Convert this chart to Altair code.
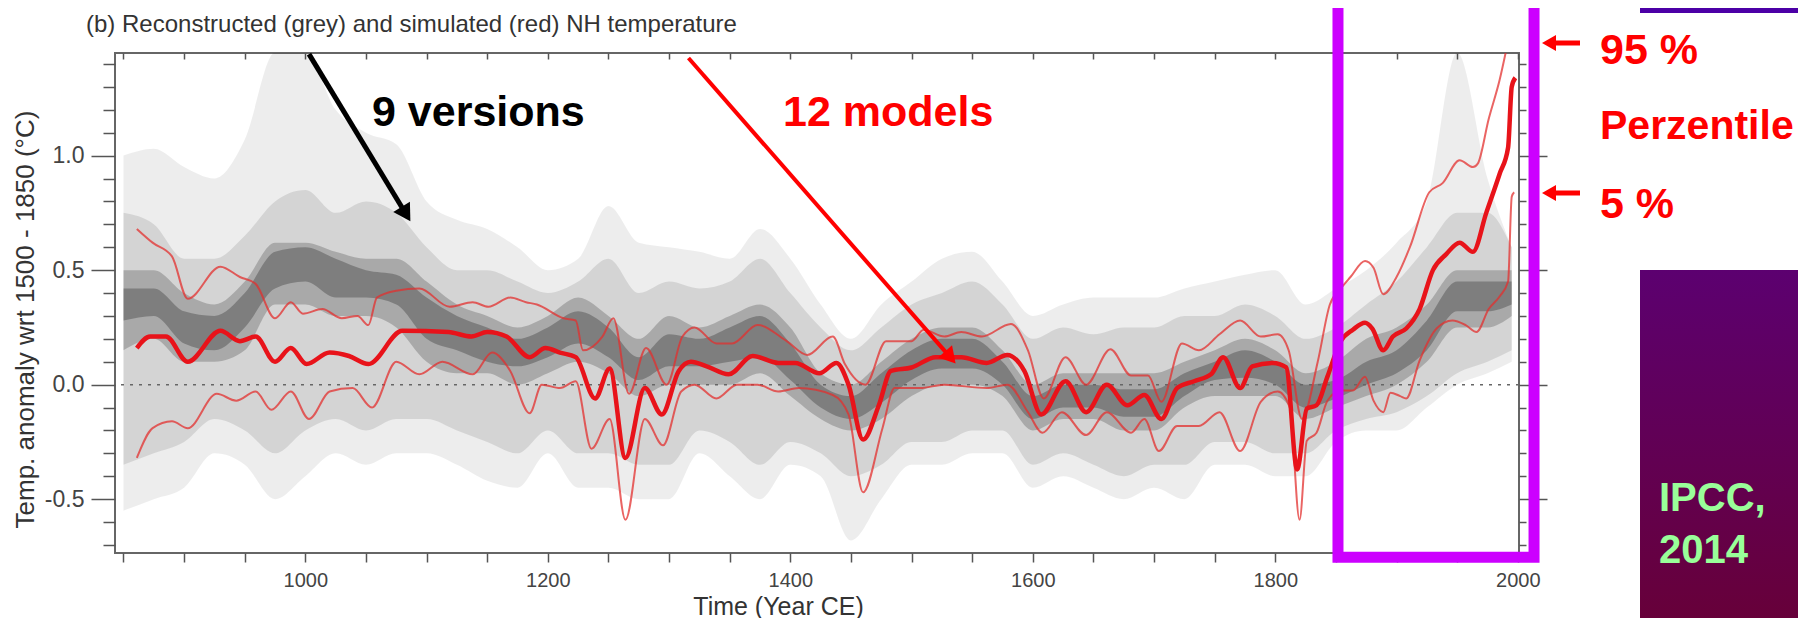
import altair as alt
import pandas as pd

# ---------------- data ----------------
med_years = [861, 872, 885, 903, 930, 946, 959, 975, 988, 1001, 1020, 1036, 1052, 1080, 1118, 1137, 1150,
             1166, 1185, 1198, 1210, 1223, 1239, 1251, 1264, 1280, 1294, 1308, 1318, 1331, 1349, 1369, 1390,
             1404, 1424, 1438, 1448, 1460, 1473, 1483, 1500, 1520, 1541, 1562, 1579, 1593, 1607, 1627, 1644,
             1661, 1678, 1692, 1706, 1719, 1733, 1747, 1757, 1771, 1781, 1798, 1809, 1818, 1826, 1834, 1843,
             1854, 1864, 1874, 1880, 1889, 1897, 1908, 1919, 1930, 1941, 1952, 1963, 1974, 1985, 1992, 1995, 1998]
med_vals = [0.16, 0.21, 0.21, 0.10, 0.235, 0.19, 0.21, 0.10, 0.16, 0.09, 0.14, 0.125, 0.09, 0.235, 0.23, 0.21, 0.23,
            0.21, 0.12, 0.16, 0.14, 0.12, -0.06, 0.07, -0.32, -0.015, -0.13, 0.06, 0.10, 0.08, 0.045, 0.125, 0.095,
            0.095, 0.05, 0.095, 0.0, -0.24, -0.09, 0.06, 0.075, 0.12, 0.12, 0.095, 0.13, 0.06, -0.13, 0.015, -0.12,
            0.0, -0.09, -0.045, -0.15, -0.015, 0.015, 0.045, 0.12, -0.015, 0.08, 0.095, 0.075, -0.37, -0.105, -0.09, 0.035,
            0.19, 0.24, 0.27, 0.245, 0.15, 0.21, 0.245, 0.33, 0.50, 0.57, 0.62, 0.58, 0.75, 0.92, 1.035, 1.30, 1.34]

p95_years = [861, 874, 890, 903, 930, 946, 959, 975, 988, 998, 1014, 1030, 1043, 1052, 1059, 1075, 1094, 1119,
             1138, 1151, 1169, 1182, 1191, 1213, 1223, 1229, 1245, 1254, 1267, 1281, 1298, 1311, 1321, 1339, 1352,
             1373, 1397, 1414, 1435, 1445, 1462, 1479, 1500, 1510, 1527, 1541, 1558, 1582, 1596, 1609, 1627, 1644,
             1664, 1681, 1695, 1706, 1723, 1737, 1754, 1771, 1788, 1802, 1811, 1822, 1835, 1845, 1854, 1862, 1874,
             1881, 1889, 1900, 1911, 1927, 1938, 1952, 1963, 1967, 1976, 1985, 1992]
p95_vals = [0.68, 0.62, 0.56, 0.375, 0.515, 0.47, 0.44, 0.29, 0.36, 0.31, 0.33, 0.29, 0.30, 0.26, 0.38, 0.41, 0.42, 0.34,
            0.36, 0.34, 0.38, 0.36, 0.35, 0.29, 0.28, 0.15, 0.21, 0.29, -0.04, 0.16, 0.0, 0.21, 0.25, 0.18, 0.18,
            0.26, 0.19, 0.13, 0.21, 0.09, 0.0, 0.19, 0.19, 0.24, 0.21, 0.23, 0.21, 0.265, 0.15, -0.06, 0.12, 0.0,
            0.155, 0.04, 0.04, -0.075, 0.18, 0.15, 0.22, 0.28, 0.21, 0.22, 0.15, -0.15, 0.10, 0.35, 0.42, 0.47, 0.54,
            0.51, 0.395, 0.47, 0.60, 0.84, 0.88, 0.98, 0.95, 0.965, 1.16, 1.33, 1.50]

p05_years = [861, 874, 890, 903, 927, 943, 959, 972, 988, 1003, 1020, 1039, 1055, 1075, 1094, 1113, 1138, 1154,
             1169, 1185, 1195, 1210, 1223, 1236, 1251, 1264, 1280, 1295, 1310, 1321, 1339, 1356, 1373, 1390, 1407,
             1435, 1448, 1460, 1476, 1486, 1507, 1527, 1562, 1579, 1596, 1608, 1624, 1644, 1661, 1681, 1692, 1704,
             1719, 1737, 1754, 1771, 1788, 1802, 1812, 1820, 1826, 1834, 1843, 1854, 1864, 1874, 1881, 1889, 1895,
             1903, 1908, 1919, 1933, 1946, 1957, 1966, 1976, 1985, 1992, 1995, 1997]
p05_vals = [-0.32, -0.19, -0.16, -0.19, -0.04, -0.07, -0.03, -0.11, -0.03, -0.15, -0.03, -0.015, -0.10, 0.10, 0.045, 0.10, 0.045, 0.14,
            0.06, -0.125, 0.0, -0.015, 0.015, -0.28, -0.15, -0.59, -0.15, -0.265, -0.03, 0.0, -0.06, 0.0, 0.0, -0.03, -0.015,
            -0.045, -0.13, -0.47, -0.19, -0.015, -0.015, 0.0, -0.015, 0.0, -0.12, -0.21, -0.12, -0.22, -0.12, -0.21, -0.15, -0.29,
            -0.18, -0.18, -0.12, -0.29, -0.075, -0.03, -0.10, -0.59, -0.245, -0.21, -0.07, -0.026, -0.026, 0.035, -0.07, -0.12, -0.035,
            -0.05, -0.06, 0.105, 0.245, 0.28, 0.26, 0.23, 0.33, 0.385, 0.45, 0.82, 0.84]

band_years = list(range(850, 1976, 25)) + [1995]
outer_hi = [1.0, 1.03, 0.95, 0.9, 1.07, 1.45, 1.45, 1.2, 1.1, 1.05,
            0.8, 0.72, 0.68, 0.6, 0.5, 0.55, 0.78, 0.62, 0.6, 0.58,
            0.55, 0.68, 0.55, 0.35, 0.2, 0.35, 0.45, 0.55, 0.58, 0.45,
            0.3, 0.35, 0.38, 0.38, 0.38, 0.42, 0.45, 0.48, 0.5, 0.35,
            0.42, 0.5, 0.62, 0.8, 1.45, 0.9, 0.6]
outer_lo = [-0.55, -0.5, -0.45, -0.3, -0.35, -0.5, -0.4, -0.3, -0.35, -0.3,
            -0.3, -0.35, -0.42, -0.45, -0.3, -0.45, -0.45, -0.5, -0.5, -0.3,
            -0.4, -0.5, -0.35, -0.4, -0.68, -0.5, -0.35, -0.35, -0.3, -0.3,
            -0.45, -0.4, -0.45, -0.5, -0.45, -0.5, -0.35, -0.35, -0.4, -0.4,
            -0.25, -0.2, -0.2, -0.1, 0.0, 0.05, 0.1]
mid_hi = [0.75, 0.7, 0.55, 0.55, 0.65, 0.8, 0.85, 0.75, 0.8, 0.75,
          0.6, 0.5, 0.5, 0.45, 0.4, 0.45, 0.55, 0.4, 0.45, 0.42,
          0.45, 0.55, 0.4, 0.25, 0.15, 0.25, 0.35, 0.4, 0.45, 0.35,
          0.2, 0.25, 0.22, 0.25, 0.25, 0.3, 0.3, 0.35, 0.3, 0.2,
          0.25, 0.35, 0.45, 0.6, 0.75, 0.75, 0.6]
mid_lo = [-0.35, -0.3, -0.25, -0.15, -0.2, -0.3, -0.2, -0.15, -0.2, -0.15,
          -0.15, -0.2, -0.25, -0.3, -0.2, -0.3, -0.3, -0.35, -0.35, -0.2,
          -0.25, -0.35, -0.25, -0.3, -0.4, -0.35, -0.25, -0.25, -0.2, -0.2,
          -0.35, -0.3, -0.35, -0.4, -0.35, -0.35, -0.25, -0.25, -0.3, -0.3,
          -0.2, -0.15, -0.12, -0.05, 0.05, 0.1, 0.15]
core_hi = [0.5, 0.5, 0.4, 0.35, 0.45, 0.62, 0.62, 0.58, 0.55, 0.55,
           0.45, 0.35, 0.3, 0.25, 0.3, 0.38, 0.3, 0.2, 0.3, 0.25,
           0.3, 0.35, 0.25, 0.05, 0.0, 0.1, 0.2, 0.25, 0.25, 0.15,
           0.0, 0.05, 0.05, 0.05, 0.05, 0.1, 0.15, 0.2, 0.15, 0.05,
           0.1, 0.2, 0.25, 0.35, 0.5, 0.5, 0.5]
core_lo = [0.15, 0.2, 0.1, 0.1, 0.15, 0.35, 0.35, 0.3, 0.3, 0.25,
           0.1, 0.05, 0.05, 0.0, 0.05, 0.1, 0.05, -0.05, 0.0, 0.0,
           0.0, 0.05, -0.05, -0.15, -0.2, -0.15, -0.05, 0.0, 0.0, -0.05,
           -0.2, -0.15, -0.15, -0.2, -0.2, -0.1, -0.05, -0.05, -0.05, -0.15,
           -0.1, -0.05, 0.0, 0.1, 0.25, 0.25, 0.3]
inner_hi = [0.42, 0.42, 0.32, 0.3, 0.4, 0.58, 0.6, 0.55, 0.5, 0.48,
            0.38, 0.3, 0.25, 0.2, 0.25, 0.32, 0.25, 0.12, 0.22, 0.2,
            0.25, 0.3, 0.18, 0.0, -0.05, 0.05, 0.15, 0.2, 0.2, 0.1,
            -0.05, 0.0, 0.0, -0.02, -0.02, 0.05, 0.1, 0.15, 0.1, 0.0,
            0.02, 0.1, 0.15, 0.28, 0.45, 0.45, 0.45]
inner_lo = [0.28, 0.3, 0.18, 0.15, 0.25, 0.42, 0.45, 0.38, 0.38, 0.35,
            0.2, 0.15, 0.1, 0.08, 0.12, 0.18, 0.12, 0.02, 0.08, 0.08,
            0.1, 0.12, 0.02, -0.1, -0.15, -0.08, 0.02, 0.07, 0.07, 0.0,
            -0.15, -0.1, -0.1, -0.14, -0.14, -0.05, 0.02, 0.03, 0.0, -0.1,
            -0.06, 0.0, 0.05, 0.15, 0.32, 0.32, 0.35]

x_ticks = list(range(850, 2001, 50))
y_ticks = [i / 10 for i in range(-7, 15)]

title_text = "(b)  Reconstructed (grey) and simulated (red) NH temperature"
x_title = "Time (Year CE)"
y_title = "Temp. anomaly wrt 1500 - 1850 (°C)"
label_versions = "9 versions"
label_models = "12 models"
label_p95 = "95 %"
label_perz = "Perzentile"
label_p05 = "5 %"
label_ipcc1 = "IPCC,"
label_ipcc2 = "2014"

# annotation anchors (data coordinates)
arrow_black = {"x": [1003], "y": [1.443], "x2": [1083], "y2": [0.745]}
arrow_red = {"x": [1316], "y": [1.426], "x2": [1532], "y2": [0.119]}
box_magenta = {"x": [1851.7], "x2": [2013.4], "y": [-0.754], "y2": [1.9]}

# ---------------- chart ----------------
SANS = "Liberation Sans, Arial, sans-serif"
W, H = 1404, 500
xs = alt.Scale(domain=[843, 2001], nice=False, zero=False)
ys = alt.Scale(domain=[-0.735, 1.448], nice=False, zero=False)
MAJOR_Y = "round(datum.value*10) % 5 == 0"

axis_bottom = alt.Axis(
    values=x_ticks, format="d",
    labelExpr="datum.value % 200 == 0 && datum.value >= 1000 ? datum.label : ''",
    tickSize=9, tickColor="#555", tickWidth=1.5, labelPadding=8,
    labelFont=SANS, labelFontSize=20, labelColor="#444",
    domain=False, grid=False, title=x_title, titleFont=SANS, titleFontSize=25,
    titleFontWeight="normal", titleColor="#333", titleX=663, titleY=61,
    titleBaseline="alphabetic", titleAlign="center")
axis_top = alt.Axis(orient="top", values=x_ticks, labels=False, tickSize=6, offset=-6,
                    tickColor="#555", tickWidth=1.5, domain=False, grid=False, title=None)
axis_left = alt.Axis(
    values=y_ticks,
    labelExpr=MAJOR_Y + " ? (datum.value < 0 ? '-' : '') + format(abs(datum.value), '.1f') : ''",
    tickSize={"condition": {"test": MAJOR_Y, "value": 24}, "value": 12},
    tickColor="#555", tickWidth=1.5, labelPadding=7,
    labelFont=SANS, labelFontSize=23, labelColor="#444",
    domain=False, grid=False, title=y_title, titleFont=SANS, titleFontSize=26,
    titleFontWeight="normal", titleColor="#333", titleX=-90, titleY=266,
    titleBaseline="middle", titleAlign="center")
axis_right = alt.Axis(orient="right", values=y_ticks, labels=False,
                      tickSize={"condition": {"test": MAJOR_Y, "value": 28}, "value": 7},
                      tickColor="#555", tickWidth=1.5, domain=False, grid=False, title=None)

bands = pd.DataFrame({"year": band_years, "outer_hi": outer_hi, "outer_lo": outer_lo,
                      "mid_hi": mid_hi, "mid_lo": mid_lo, "core_hi": core_hi, "core_lo": core_lo,
                      "inner_hi": inner_hi, "inner_lo": inner_lo})


def band(lo, hi, op, xaxis=None, yaxis=None):
    return alt.Chart(bands).mark_area(interpolate="monotone", color="#000", opacity=op, clip=True).encode(
        x=alt.X("year:Q", scale=xs, axis=xaxis),
        y=alt.Y(hi + ":Q", scale=ys, axis=yaxis),
        y2=alt.Y2(lo + ":Q"))


def series(years, vals, color, width, op, xaxis=None, yaxis=None):
    df = pd.DataFrame({"year": years, "v": vals})
    return alt.Chart(df).mark_line(interpolate="monotone", color=color, strokeWidth=width,
                                   opacity=op, clip=True).encode(
        x=alt.X("year:Q", scale=xs, axis=xaxis),
        y=alt.Y("v:Q", scale=ys, axis=yaxis))


one = pd.DataFrame({"k": [0]})


def text(s, x, y, size, color, weight="bold", font=SANS):
    return alt.Chart(one).mark_text(text=s, align="left", baseline="alphabetic", font=font,
                                    fontSize=size, fontWeight=weight, color=color).encode(
        x=alt.value(x), y=alt.value(y))


def arrow(d, color, width, angle, size):
    df = pd.DataFrame(d)
    shaft = alt.Chart(df).mark_rule(color=color, strokeWidth=width, clip=False).encode(
        x=alt.X("x:Q", scale=xs, axis=None), y=alt.Y("y:Q", scale=ys, axis=None),
        x2="x2:Q", y2="y2:Q")
    head = alt.Chart(df).mark_point(shape="triangle-right", filled=True, opacity=1, size=size,
                                    angle=angle, color=color, clip=False).encode(
        x=alt.X("x2:Q", scale=xs, axis=None), y=alt.Y("y2:Q", scale=ys, axis=None))
    return [shaft, head]


def side_arrow(y):
    shaft = alt.Chart(one).mark_rule(color="#FF0000", strokeWidth=5).encode(
        x=alt.value(1432), x2=alt.value(1465), y=alt.value(y), y2=alt.value(y))
    head = alt.Chart(one).mark_point(shape="triangle-left", filled=True, opacity=1, size=260,
                                     color="#FF0000").encode(x=alt.value(1434), y=alt.value(y))
    return [shaft, head]


zero_line = alt.Chart(one).mark_rule(color="#666", strokeWidth=1.5, strokeDash=[3, 6]).encode(
    y=alt.datum(0, scale=ys, axis=None))

magenta = alt.Chart(pd.DataFrame(box_magenta)).mark_rect(
    fillOpacity=0, stroke="#CC00FF", strokeWidth=11, clip=False).encode(
    x=alt.X("x:Q", scale=xs, axis=None), x2="x2:Q",
    y=alt.Y("y:Q", scale=ys, axis=None), y2="y2:Q")

top_strip = alt.Chart(one).mark_rect(color="#4C00A6").encode(
    x=alt.value(1525), x2=alt.value(1700), y=alt.value(-60), y2=alt.value(-40))
ipcc_box = alt.Chart(one).mark_rect(
    fill={"gradient": "linear", "x1": 0, "x2": 0, "y1": 0, "y2": 1,
          "stops": [{"offset": 0, "color": "#5C0070"}, {"offset": 1, "color": "#680034"}]}).encode(
    x=alt.value(1525), x2=alt.value(1700), y=alt.value(217), y2=alt.value(600))

layers = [
    band("outer_lo", "outer_hi", 0.07, axis_bottom, axis_left),
    band("mid_lo", "mid_hi", 0.10),
    band("core_lo", "core_hi", 0.20),
    band("inner_lo", "inner_hi", 0.25),
    zero_line,
    series(p95_years, p95_vals, "#E3302F", 2, 0.75),
    series(p05_years, p05_vals, "#E3302F", 2, 0.75),
    series(med_years, med_vals, "#E8131A", 4.5, 1, axis_top, axis_right),
    *arrow(arrow_black, "#000", 5, 58.6, 380),
    *arrow(arrow_red, "#FF0000", 4, 48.8, 340),
    text(label_versions, 257, 73, 43, "#000"),
    text(label_models, 668, 73, 43, "#FF0000"),
    magenta,
    top_strip,
    ipcc_box,
    *side_arrow(-10),
    *side_arrow(140),
    text(label_p95, 1485, 11, 43, "#FF0000"),
    text(label_perz, 1485, 86, 41, "#FF0000"),
    text(label_p05, 1485, 165, 43, "#FF0000"),
    text(label_ipcc1, 1544, 458, 40, "#99FF99"),
    text(label_ipcc2, 1544, 510, 40, "#99FF99"),
    text(title_text, -29, -21, 24, "#333", weight="normal"),
]

chart = alt.layer(*layers).resolve_axis(x="independent", y="independent").properties(
    width=W, height=H, padding={"left": 107, "top": 45, "right": 279, "bottom": 65},
    autosize=alt.AutoSizeParams(type="none"), background="white"
).configure_view(stroke="#666", strokeWidth=2)

chart.save("out.html", embed_options={"renderer": "svg", "actions": False})
